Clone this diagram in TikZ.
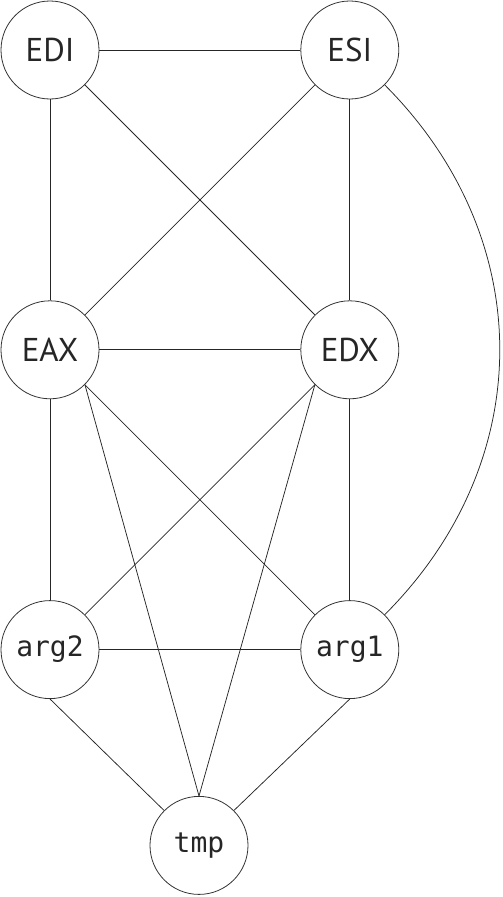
\documentclass[tikz,border=0pt]{standalone}
\usepackage{fontspec}
\setsansfont{PT Sans}
\setmonofont{DejaVu Sans Mono}
\usetikzlibrary{positioning}

\begin{document}
\begin{tikzpicture}[
    node distance=201pt,
    every node/.style={text=black!85},
    reg/.style={circle, draw=black!80, line width=0.8pt, minimum size=98pt, inner sep=0pt, font=\sffamily\fontsize{33}{33}\selectfont},
    var/.style={reg, font=\ttfamily\fontsize{28}{28}\selectfont},
    edge/.style={draw=black!85, line width=0.75pt}
]
\useasboundingbox (-50pt,50pt) rectangle ++(503pt,-897pt);
% Nodes
\node (EDI) [reg] {EDI};
\node (ESI) [reg, right=of EDI] {ESI};
\node (EAX) [reg, below=of EDI] {EAX};
\node (EDX) [reg, right=of EAX] {EDX};
\node (arg2) [var, below=of EAX] {arg2};
\node (arg1) [var, right=of arg2] {arg1};
\node (tmp) [var, below=97pt of arg2, xshift=149pt] {tmp};

% Edges
\draw [edge] (EDI) -- (ESI);
\draw [edge] (EDI) -- (EAX);
\draw [edge] (EDI) -- (EDX);
\draw [edge] (ESI) -- (EAX);
\draw [edge] (ESI) -- (EDX);
\draw [edge] (ESI) to[out=-45, in=45, looseness=1.05] (arg1);
\draw [edge] (EAX) -- (EDX);
\draw [edge] (EAX) -- (arg2);
\draw [edge] (EAX) -- (arg1);
\draw [edge] (EAX.south east) -- (tmp.north);
\draw [edge] (EDX) -- (arg2);
\draw [edge] (EDX) -- (arg1);
\draw [edge] (EDX.south west) -- (tmp.north);
\draw [edge] (arg2) -- (arg1);
\draw [edge] (arg2.south) -- (tmp.north west);
\draw [edge] (arg1.south) -- (tmp.north east);
\end{tikzpicture}
\end{document}
